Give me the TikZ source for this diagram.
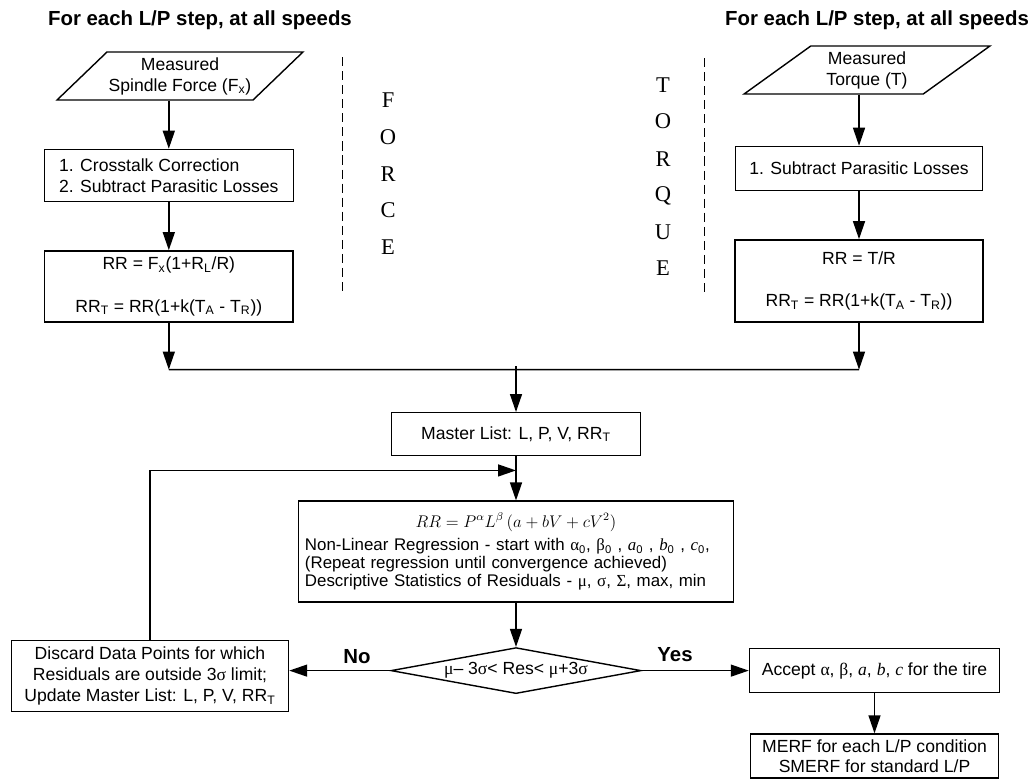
\documentclass[tikz,border=0pt]{standalone}
\usepackage{amsmath}
\usepackage{fontspec}
\setmainfont{Liberation Sans}
\newfontfamily\tnrfont{Liberation Serif}
\newcommand{\grk}[1]{{\tnrfont #1}}
\newcommand{\itl}[1]{{\tnrfont\itshape #1}}
\usepackage{tikz}
\usetikzlibrary{arrows.meta, positioning, shapes.geometric}

\begin{document}
\begin{tikzpicture}[
    x=0.025cm, y=-0.025cm,
    box/.style={draw, rectangle, align=center, line width=1pt, inner sep=2pt, font=\fontsize{12.5}{15}\selectfont},
    io/.style={draw, trapezium, trapezium left angle=39, trapezium right angle=141, trapezium stretches=true, minimum width=6.15cm, minimum height=1.2cm, align=center, line width=1pt, inner sep=1pt, font=\fontsize{12.5}{15}\selectfont},
    decision/.style={draw, diamond, aspect=5.4, minimum width=6.25cm, minimum height=1.15cm, inner sep=0pt, line width=1pt, font=\fontsize{12.5}{15}\selectfont},
    heading/.style={font=\fontsize{14.5}{17}\selectfont\bfseries},
    sideletter/.style={font=\fontsize{16}{18}\selectfont\tnrfont},
    divider/.style={dash pattern=on 6.5pt off 3.5pt, line width=0.6pt},
    arrow/.style={-{Triangle[length=4.5mm, width=3mm]}, line width=1pt},
    joinline/.style={line width=1pt}
]
\useasboundingbox (0,0) rectangle (1036,778);

% Headings
\node[heading] (lefthead) at (200,20) {For each L/P step, at all speeds};
\node[heading] (righthead) at (877,20) {For each L/P step, at all speeds};

% Force branch
\node[io] (forcein) at (180,76) {Measured\\Spindle Force (F\textsubscript{x})};
\node[box, below=1.2cm of forcein, xshift=-0.28cm, minimum width=6.225cm, minimum height=1.3cm, align=left] (xtalk) {1. Crosstalk Correction\\2. Subtract Parasitic Losses};
\node[box, below=1.2cm of xtalk, minimum width=6.2cm, minimum height=1.775cm] (forcecalc) {RR = F\textsubscript{x}(1+R\textsubscript{L}/R)\\[15pt]RR\textsubscript{T} = RR(1+k(T\textsubscript{A} - T\textsubscript{R}))};
\coordinate[below=1.175cm of forcecalc.south] (mergeL);

% Torque branch
\node[io] (torquein) at (867,70) {Measured\\Torque (T)};
\node[box, below=1.275cm of torquein, xshift=-0.2cm, minimum width=6.175cm, minimum height=1.1cm] (parasitic) {1. Subtract Parasitic Losses};
\node[box, below=1.2cm of parasitic, minimum width=6.2cm, minimum height=2.05cm] (torquecalc) {RR = T/R\\[15pt]RR\textsubscript{T} = RR(1+k(T\textsubscript{A} - T\textsubscript{R}))};
\coordinate[below=1.175cm of torquecalc.south] (mergeR);

% Side labels
\draw[divider] (342,57) -- (342,292);
\draw[divider] (704,58) -- (704,293);
\node[sideletter] (forceF) at (388,100) {F};
\node[sideletter] (forceO) at (388,137) {O};
\node[sideletter] (forceR) at (388,174) {R};
\node[sideletter] (forceC) at (388,210) {C};
\node[sideletter] (forceE) at (388,247) {E};
\node[sideletter] (torqueT) at (663,85) {T};
\node[sideletter] (torqueO) at (663,121) {O};
\node[sideletter] (torqueR) at (663,159) {R};
\node[sideletter] (torqueQ) at (663,196) {Q};
\node[sideletter] (torqueU) at (663,232) {U};
\node[sideletter] (torqueE) at (663,268) {E};

% Common part
\coordinate (mergeM) at (516,366);
\node[box, below=1.15cm of mergeM, minimum width=6.225cm, minimum height=1.075cm] (master) {Master List: L, P, V, RR\textsubscript{T}};
\coordinate[below=0.35cm of master.south] (fbjoin);
\node[box, below=1.1cm of master, minimum width=10.875cm, minimum height=2.525cm, text width=10.55cm, align=left, font=\fontsize{12}{12.8}\selectfont] (regress) {\centering $RR = P^{\alpha}L^{\beta}\left(a+bV+cV^{2}\right)$\par\vspace{4pt}\raggedright Non-Linear Regression - start with {\grk α}\textsubscript{0}, {\grk β}\textsubscript{0} , \itl{a}\textsubscript{0} , \itl{b}\textsubscript{0} , \itl{c}\textsubscript{0},\\(Repeat regression until convergence achieved)\\Descriptive Statistics of Residuals - {\grk μ}, {\grk σ}, {\grk Σ}, max, min};
\node[decision, below=1.1cm of regress] (check) {{\grk μ}– 3{\grk σ}< Res< {\grk μ}+3{\grk σ}};
\node[box, minimum width=6.925cm, minimum height=1.775cm] (discard) at (150,676) {Discard Data Points for which\\Residuals are outside 3{\grk σ} limit;\\Update Master List: L, P, V, RR\textsubscript{T}};
\node[box, right=2.675cm of check, minimum width=6.25cm, minimum height=1.1cm] (accept) {Accept {\grk α}, {\grk β}, \itl{a}, \itl{b}, \itl{c} for the tire};
\node[box, below=1.0cm of accept, minimum width=6.2cm, minimum height=1.1cm, font=\fontsize{12.5}{14}\selectfont] (merf) {MERF for each L/P condition\\SMERF for standard L/P};
\node[heading] (nolabel) at (357,657) {No};
\node[heading] (yeslabel) at (675,655) {Yes};

% Arrows
\draw[arrow] (forcein.south -| xtalk.north) -- (xtalk);
\draw[arrow] (xtalk) -- (forcecalc);
\draw[arrow] (forcecalc) -- (mergeL);
\draw[arrow] (torquein.south -| parasitic.north) -- (parasitic);
\draw[arrow] (parasitic) -- (torquecalc);
\draw[arrow] (torquecalc) -- (mergeR);
\draw[joinline] (mergeL) -- (mergeR);
\draw[arrow] (mergeM) -- (master);
\draw[arrow] (master) -- (regress);
\draw[arrow] (regress) -- (check);
\draw[arrow] (check.west) -- (check.west -| discard.east);
\draw[arrow] (check) -- (accept);
\draw[arrow] (accept) -- (merf);
\draw[arrow] (discard.north) |- (fbjoin);

\end{tikzpicture}
\end{document}
